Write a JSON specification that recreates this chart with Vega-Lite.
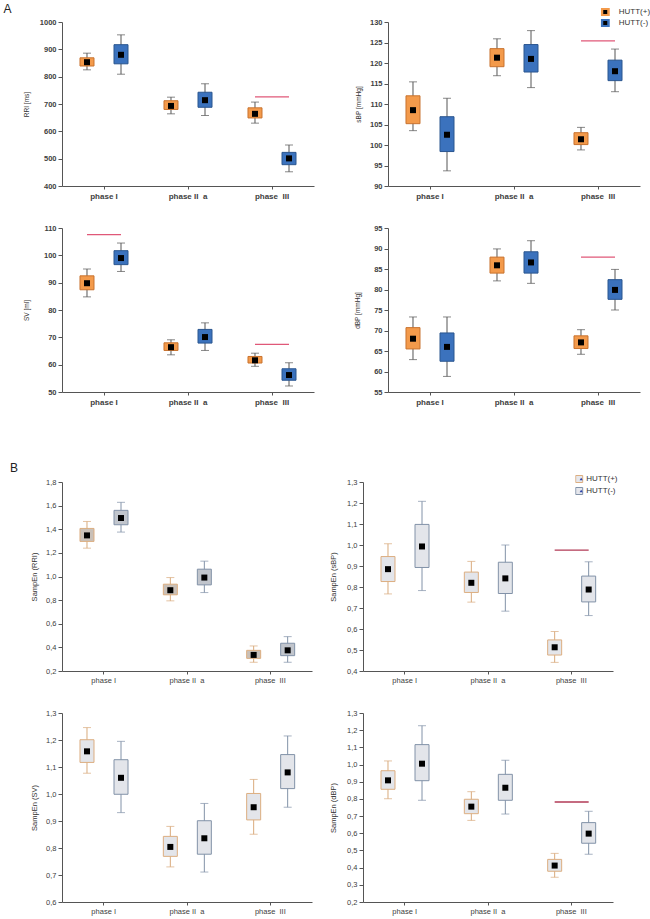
{
"$schema": "https://vega.github.io/schema/vega-lite/v6.json",
"padding": {"left": 3, "top": 3, "right": 5, "bottom": 5},
"datasets": {"d": [
{"p":"RRI","phase":"phase I","group":"HUTT(+)","lo":825,"q1":839,"mean":853,"q3":869,"hi":886},
{"p":"RRI","phase":"phase I","group":"HUTT(-)","lo":809,"q1":847,"mean":880,"q3":917,"hi":953},
{"p":"RRI","phase":"phase II a","group":"HUTT(+)","lo":664,"q1":680,"mean":693,"q3":712,"hi":725},
{"p":"RRI","phase":"phase II a","group":"HUTT(-)","lo":658,"q1":688,"mean":714,"q3":743,"hi":774},
{"p":"RRI","phase":"phase III","group":"HUTT(+)","lo":630,"q1":649,"mean":664,"q3":686,"hi":707,"sig":726},
{"p":"RRI","phase":"phase III","group":"HUTT(-)","lo":452,"q1":478,"mean":501,"q3":523,"hi":550,"sig":726},
{"p":"sBP","phase":"phase I","group":"HUTT(+)","lo":103.5,"q1":105.2,"mean":108.5,"q3":112.0,"hi":115.4},
{"p":"sBP","phase":"phase I","group":"HUTT(-)","lo":93.7,"q1":98.4,"mean":102.5,"q3":106.9,"hi":111.4},
{"p":"sBP","phase":"phase II a","group":"HUTT(+)","lo":116.9,"q1":119.1,"mean":121.3,"q3":123.5,"hi":125.9},
{"p":"sBP","phase":"phase II a","group":"HUTT(-)","lo":114.0,"q1":117.8,"mean":121.0,"q3":124.5,"hi":127.9},
{"p":"sBP","phase":"phase III","group":"HUTT(+)","lo":98.8,"q1":100.1,"mean":101.4,"q3":103.0,"hi":104.3,"sig":125.4},
{"p":"sBP","phase":"phase III","group":"HUTT(-)","lo":113.0,"q1":115.7,"mean":118.0,"q3":120.7,"hi":123.4,"sig":125.4},
{"p":"SV","phase":"phase I","group":"HUTT(+)","lo":84.8,"q1":87.4,"mean":89.8,"q3":92.5,"hi":95.0,"sig":107.6},
{"p":"SV","phase":"phase I","group":"HUTT(-)","lo":94.1,"q1":96.6,"mean":99.0,"q3":101.7,"hi":104.5,"sig":107.6},
{"p":"SV","phase":"phase II a","group":"HUTT(+)","lo":63.6,"q1":65.2,"mean":66.4,"q3":68.0,"hi":69.1},
{"p":"SV","phase":"phase II a","group":"HUTT(-)","lo":65.2,"q1":67.9,"mean":70.1,"q3":72.9,"hi":75.3},
{"p":"SV","phase":"phase III","group":"HUTT(+)","lo":59.4,"q1":60.6,"mean":61.6,"q3":63.0,"hi":64.2,"sig":67.4},
{"p":"SV","phase":"phase III","group":"HUTT(-)","lo":52.2,"q1":54.3,"mean":56.2,"q3":58.5,"hi":60.7,"sig":67.4},
{"p":"dBP","phase":"phase I","group":"HUTT(+)","lo":62.9,"q1":65.5,"mean":68.0,"q3":70.7,"hi":73.3},
{"p":"dBP","phase":"phase I","group":"HUTT(-)","lo":58.8,"q1":62.5,"mean":66.0,"q3":69.4,"hi":73.3},
{"p":"dBP","phase":"phase II a","group":"HUTT(+)","lo":82.1,"q1":84.0,"mean":85.9,"q3":87.9,"hi":89.9},
{"p":"dBP","phase":"phase II a","group":"HUTT(-)","lo":81.5,"q1":84.0,"mean":86.6,"q3":89.2,"hi":91.9},
{"p":"dBP","phase":"phase III","group":"HUTT(+)","lo":64.2,"q1":65.6,"mean":67.1,"q3":68.7,"hi":70.2,"sig":87.9},
{"p":"dBP","phase":"phase III","group":"HUTT(-)","lo":75.0,"q1":77.6,"mean":79.9,"q3":82.4,"hi":84.9,"sig":87.9},
{"p":"eRRI","phase":"phase I","group":"HUTT(+)","lo":1.240,"q1":1.297,"mean":1.348,"q3":1.407,"hi":1.466},
{"p":"eRRI","phase":"phase I","group":"HUTT(-)","lo":1.376,"q1":1.438,"mean":1.495,"q3":1.560,"hi":1.628},
{"p":"eRRI","phase":"phase II a","group":"HUTT(+)","lo":0.794,"q1":0.845,"mean":0.884,"q3":0.935,"hi":0.991},
{"p":"eRRI","phase":"phase II a","group":"HUTT(-)","lo":0.864,"q1":0.929,"mean":0.991,"q3":1.062,"hi":1.130},
{"p":"eRRI","phase":"phase III","group":"HUTT(+)","lo":0.274,"q1":0.307,"mean":0.336,"q3":0.375,"hi":0.412},
{"p":"eRRI","phase":"phase III","group":"HUTT(-)","lo":0.274,"q1":0.330,"mean":0.375,"q3":0.435,"hi":0.491},
{"p":"esBP","phase":"phase I","group":"HUTT(+)","lo":0.767,"q1":0.826,"mean":0.885,"q3":0.945,"hi":1.006},
{"p":"esBP","phase":"phase I","group":"HUTT(-)","lo":0.783,"q1":0.893,"mean":0.993,"q3":1.098,"hi":1.208},
{"p":"esBP","phase":"phase II a","group":"HUTT(+)","lo":0.728,"q1":0.774,"mean":0.820,"q3":0.871,"hi":0.922},
{"p":"esBP","phase":"phase II a","group":"HUTT(-)","lo":0.685,"q1":0.769,"mean":0.841,"q3":0.918,"hi":1.000},
{"p":"esBP","phase":"phase III","group":"HUTT(+)","lo":0.441,"q1":0.476,"mean":0.513,"q3":0.548,"hi":0.588,"sig":0.976},
{"p":"esBP","phase":"phase III","group":"HUTT(-)","lo":0.664,"q1":0.729,"mean":0.788,"q3":0.852,"hi":0.920,"sig":0.976},
{"p":"eSV","phase":"phase I","group":"HUTT(+)","lo":1.077,"q1":1.117,"mean":1.158,"q3":1.201,"hi":1.246},
{"p":"eSV","phase":"phase I","group":"HUTT(-)","lo":0.931,"q1":0.999,"mean":1.060,"q3":1.127,"hi":1.195},
{"p":"eSV","phase":"phase II a","group":"HUTT(+)","lo":0.730,"q1":0.769,"mean":0.804,"q3":0.843,"hi":0.880},
{"p":"eSV","phase":"phase II a","group":"HUTT(-)","lo":0.711,"q1":0.777,"mean":0.836,"q3":0.901,"hi":0.965},
{"p":"eSV","phase":"phase III","group":"HUTT(+)","lo":0.851,"q1":0.904,"mean":0.951,"q3":1.002,"hi":1.054},
{"p":"eSV","phase":"phase III","group":"HUTT(-)","lo":0.951,"q1":1.020,"mean":1.080,"q3":1.146,"hi":1.215},
{"p":"edBP","phase":"phase I","group":"HUTT(+)","lo":0.801,"q1":0.856,"mean":0.908,"q3":0.964,"hi":1.021},
{"p":"edBP","phase":"phase I","group":"HUTT(-)","lo":0.792,"q1":0.906,"mean":1.005,"q3":1.116,"hi":1.226},
{"p":"edBP","phase":"phase II a","group":"HUTT(+)","lo":0.675,"q1":0.714,"mean":0.755,"q3":0.798,"hi":0.842},
{"p":"edBP","phase":"phase II a","group":"HUTT(-)","lo":0.712,"q1":0.792,"mean":0.865,"q3":0.943,"hi":1.025},
{"p":"edBP","phase":"phase III","group":"HUTT(+)","lo":0.344,"q1":0.379,"mean":0.412,"q3":0.448,"hi":0.483,"sig":0.782},
{"p":"edBP","phase":"phase III","group":"HUTT(-)","lo":0.478,"q1":0.542,"mean":0.598,"q3":0.662,"hi":0.728,"sig":0.782}
]},
"data": {"name": "d"},
"spacing": 56,
"resolve": {"scale": {"stroke": "independent", "shape": "independent"}, "legend": {"stroke": "independent", "shape": "independent"}},
"vconcat": [
{
"title": {"text": "A", "anchor": "start", "fontSize": 12, "fontWeight": "normal", "dx": -20, "offset": -8},
"columns": 2,
"spacing": {"row": 24, "column": 40},
"resolve": {"scale": {"stroke": "independent", "shape": "independent"}, "legend": {"stroke": "independent", "shape": "independent"}},
"concat": [
{
"width": 252, "height": 164,
"transform": [{"filter": "datum.p==='RRI'"}],
"encoding": {
"x": {"field": "phase", "type": "nominal", "title": null, "scale": {"domain": ["phase I", "phase II a", "phase III"], "paddingInner": 0, "paddingOuter": 0}, "axis": {"labelAngle": 0, "tickSize": 3, "labelPadding": 3, "labelFontSize": 8, "labelFontWeight": "bold", "labelOverlap": false, "labelExpr": "datum.label==='phase II a'?'phase II\u00a0\u00a0a':datum.label==='phase III'?'phase\u00a0\u00a0III':datum.label"}},
"xOffset": {"field": "group", "type": "nominal", "scale": {"domain": ["HUTT(+)", "HUTT(-)"], "paddingInner": 0, "paddingOuter": 0.235}}
},
"layer": [
{"mark": {"type": "rule", "color": "#555555"}, "encoding": {"y": {"field": "lo", "type": "quantitative", "title": "RRI [ms]", "scale": {"domain": [400, 1000], "nice": false, "zero": false}, "axis": {"values": [400, 500, 600, 700, 800, 900, 1000], "tickCount": 30, "format": "d", "labelOverlap": false, "tickSize": 4, "labelPadding": 2, "labelFontSize": 7.5, "labelFontWeight": "bold", "titleFontSize": 6.5, "titleX": -32.5}}, "y2": {"field": "hi"}}},
{"mark": {"type": "tick", "color": "#555555", "size": 8, "thickness": 1}, "encoding": {"y": {"field": "lo", "type": "quantitative", "title": "RRI [ms]"}}},
{"mark": {"type": "tick", "color": "#555555", "size": 8, "thickness": 1}, "encoding": {"y": {"field": "hi", "type": "quantitative", "title": "RRI [ms]"}}},
{"mark": {"type": "bar", "size": 14, "strokeWidth": 1}, "encoding": {"y": {"field": "q1", "type": "quantitative", "title": "RRI [ms]"}, "y2": {"field": "q3"}, "fill": {"condition": {"test": "datum.group==='HUTT(+)'", "value": "#f39a4b"}, "value": "#3b72bd"}, "stroke": {"condition": {"test": "datum.group==='HUTT(+)'", "value": "#c8722e"}, "value": "#2b568f"}}},
{"mark": {"type": "square", "size": 36, "color": "#000000", "opacity": 1}, "encoding": {"y": {"field": "mean", "type": "quantitative", "title": "RRI [ms]"}}},
{"transform": [{"filter": "isValid(datum.sig)"}], "mark": {"type": "line", "color": "#e05878", "strokeWidth": 1.3}, "encoding": {"y": {"field": "sig", "type": "quantitative", "title": "RRI [ms]"}, "detail": {"field": "phase"}}}
]
},
{
"width": 252, "height": 164,
"transform": [{"filter": "datum.p==='sBP'"}],
"encoding": {
"x": {"field": "phase", "type": "nominal", "title": null, "scale": {"domain": ["phase I", "phase II a", "phase III"], "paddingInner": 0, "paddingOuter": 0}, "axis": {"labelAngle": 0, "tickSize": 3, "labelPadding": 3, "labelFontSize": 8, "labelFontWeight": "bold", "labelOverlap": false, "labelExpr": "datum.label==='phase II a'?'phase II\u00a0\u00a0a':datum.label==='phase III'?'phase\u00a0\u00a0III':datum.label"}},
"xOffset": {"field": "group", "type": "nominal", "scale": {"domain": ["HUTT(+)", "HUTT(-)"], "paddingInner": 0, "paddingOuter": 0.235}}
},
"layer": [
{"mark": {"type": "rule", "color": "#555555"}, "encoding": {"y": {"field": "lo", "type": "quantitative", "title": "sBP [mmHg]", "scale": {"domain": [90, 130], "nice": false, "zero": false}, "axis": {"values": [90, 95, 100, 105, 110, 115, 120, 125, 130], "tickCount": 30, "labelOverlap": false, "tickSize": 4, "labelPadding": 2, "labelFontSize": 7.5, "labelFontWeight": "bold", "titleFontSize": 6.5, "titleX": -27}}, "y2": {"field": "hi"}}},
{"mark": {"type": "tick", "color": "#555555", "size": 8, "thickness": 1}, "encoding": {"y": {"field": "lo", "type": "quantitative", "title": "sBP [mmHg]"}}},
{"mark": {"type": "tick", "color": "#555555", "size": 8, "thickness": 1}, "encoding": {"y": {"field": "hi", "type": "quantitative", "title": "sBP [mmHg]"}}},
{"mark": {"type": "bar", "size": 14, "strokeWidth": 1}, "encoding": {"y": {"field": "q1", "type": "quantitative", "title": "sBP [mmHg]"}, "y2": {"field": "q3"}, "fill": {"condition": {"test": "datum.group==='HUTT(+)'", "value": "#f39a4b"}, "value": "#3b72bd"}, "stroke": {"condition": {"test": "datum.group==='HUTT(+)'", "value": "#c8722e"}, "value": "#2b568f"}}},
{"mark": {"type": "square", "size": 36, "color": "#000000", "opacity": 1}, "encoding": {"y": {"field": "mean", "type": "quantitative", "title": "sBP [mmHg]"}}},
{"transform": [{"filter": "isValid(datum.sig)"}], "mark": {"type": "line", "color": "#e05878", "strokeWidth": 1.3}, "encoding": {"y": {"field": "sig", "type": "quantitative", "title": "sBP [mmHg]"}, "detail": {"field": "phase"}}},
{"mark": {"type": "point", "shape": "square", "filled": true, "fill": "#000000", "opacity": 0}, "encoding": {"y": {"field": "mean", "type": "quantitative", "title": "sBP [mmHg]"}, "stroke": {"field": "group", "type": "nominal", "scale": {"domain": ["HUTT(+)", "HUTT(-)"], "range": ["#f39a4b", "#3b72bd"]}, "legend": {"orient": "none", "legendX": 212.75, "legendY": -14, "title": null, "symbolType": "square", "symbolSize": 42, "symbolStrokeWidth": 2.5, "symbolFillColor": "#000000", "symbolOpacity": 1, "labelFontSize": 8, "labelOffset": 9, "rowPadding": 3, "clipHeight": 8, "padding": 0, "labelColor": "#333333"}}}}
]
},
{
"width": 252, "height": 164,
"transform": [{"filter": "datum.p==='SV'"}],
"encoding": {
"x": {"field": "phase", "type": "nominal", "title": null, "scale": {"domain": ["phase I", "phase II a", "phase III"], "paddingInner": 0, "paddingOuter": 0}, "axis": {"labelAngle": 0, "tickSize": 3, "labelPadding": 3, "labelFontSize": 8, "labelFontWeight": "bold", "labelOverlap": false, "labelExpr": "datum.label==='phase II a'?'phase II\u00a0\u00a0a':datum.label==='phase III'?'phase\u00a0\u00a0III':datum.label"}},
"xOffset": {"field": "group", "type": "nominal", "scale": {"domain": ["HUTT(+)", "HUTT(-)"], "paddingInner": 0, "paddingOuter": 0.235}}
},
"layer": [
{"mark": {"type": "rule", "color": "#555555"}, "encoding": {"y": {"field": "lo", "type": "quantitative", "title": "SV [ml]", "scale": {"domain": [50, 110], "nice": false, "zero": false}, "axis": {"values": [50, 60, 70, 80, 90, 100, 110], "tickCount": 30, "labelOverlap": false, "tickSize": 4, "labelPadding": 2, "labelFontSize": 7.5, "labelFontWeight": "bold", "titleFontSize": 6.5, "titleX": -32.5}}, "y2": {"field": "hi"}}},
{"mark": {"type": "tick", "color": "#555555", "size": 8, "thickness": 1}, "encoding": {"y": {"field": "lo", "type": "quantitative", "title": "SV [ml]"}}},
{"mark": {"type": "tick", "color": "#555555", "size": 8, "thickness": 1}, "encoding": {"y": {"field": "hi", "type": "quantitative", "title": "SV [ml]"}}},
{"mark": {"type": "bar", "size": 14, "strokeWidth": 1}, "encoding": {"y": {"field": "q1", "type": "quantitative", "title": "SV [ml]"}, "y2": {"field": "q3"}, "fill": {"condition": {"test": "datum.group==='HUTT(+)'", "value": "#f39a4b"}, "value": "#3b72bd"}, "stroke": {"condition": {"test": "datum.group==='HUTT(+)'", "value": "#c8722e"}, "value": "#2b568f"}}},
{"mark": {"type": "square", "size": 36, "color": "#000000", "opacity": 1}, "encoding": {"y": {"field": "mean", "type": "quantitative", "title": "SV [ml]"}}},
{"transform": [{"filter": "isValid(datum.sig)"}], "mark": {"type": "line", "color": "#e05878", "strokeWidth": 1.3}, "encoding": {"y": {"field": "sig", "type": "quantitative", "title": "SV [ml]"}, "detail": {"field": "phase"}}}
]
},
{
"width": 252, "height": 164,
"transform": [{"filter": "datum.p==='dBP'"}],
"encoding": {
"x": {"field": "phase", "type": "nominal", "title": null, "scale": {"domain": ["phase I", "phase II a", "phase III"], "paddingInner": 0, "paddingOuter": 0}, "axis": {"labelAngle": 0, "tickSize": 3, "labelPadding": 3, "labelFontSize": 8, "labelFontWeight": "bold", "labelOverlap": false, "labelExpr": "datum.label==='phase II a'?'phase II\u00a0\u00a0a':datum.label==='phase III'?'phase\u00a0\u00a0III':datum.label"}},
"xOffset": {"field": "group", "type": "nominal", "scale": {"domain": ["HUTT(+)", "HUTT(-)"], "paddingInner": 0, "paddingOuter": 0.235}}
},
"layer": [
{"mark": {"type": "rule", "color": "#555555"}, "encoding": {"y": {"field": "lo", "type": "quantitative", "title": "dBP [mmHg]", "scale": {"domain": [55, 95], "nice": false, "zero": false}, "axis": {"values": [55, 60, 65, 70, 75, 80, 85, 90, 95], "tickCount": 30, "labelOverlap": false, "tickSize": 4, "labelPadding": 2, "labelFontSize": 7.5, "labelFontWeight": "bold", "titleFontSize": 6.5, "titleX": -28}}, "y2": {"field": "hi"}}},
{"mark": {"type": "tick", "color": "#555555", "size": 8, "thickness": 1}, "encoding": {"y": {"field": "lo", "type": "quantitative", "title": "dBP [mmHg]"}}},
{"mark": {"type": "tick", "color": "#555555", "size": 8, "thickness": 1}, "encoding": {"y": {"field": "hi", "type": "quantitative", "title": "dBP [mmHg]"}}},
{"mark": {"type": "bar", "size": 14, "strokeWidth": 1}, "encoding": {"y": {"field": "q1", "type": "quantitative", "title": "dBP [mmHg]"}, "y2": {"field": "q3"}, "fill": {"condition": {"test": "datum.group==='HUTT(+)'", "value": "#f39a4b"}, "value": "#3b72bd"}, "stroke": {"condition": {"test": "datum.group==='HUTT(+)'", "value": "#c8722e"}, "value": "#2b568f"}}},
{"mark": {"type": "square", "size": 36, "color": "#000000", "opacity": 1}, "encoding": {"y": {"field": "mean", "type": "quantitative", "title": "dBP [mmHg]"}}},
{"transform": [{"filter": "isValid(datum.sig)"}], "mark": {"type": "line", "color": "#e05878", "strokeWidth": 1.3}, "encoding": {"y": {"field": "sig", "type": "quantitative", "title": "dBP [mmHg]"}, "detail": {"field": "phase"}}}
]
}
]
},
{
"title": {"text": "B", "anchor": "start", "fontSize": 12, "fontWeight": "normal", "dx": -20, "offset": 0},
"columns": 2,
"spacing": {"row": 25, "column": 17},
"resolve": {"scale": {"stroke": "independent", "shape": "independent"}, "legend": {"stroke": "independent", "shape": "independent"}},
"concat": [
{
"width": 250, "height": 189,
"transform": [{"filter": "datum.p==='eRRI'"}],
"encoding": {
"x": {"field": "phase", "type": "nominal", "title": null, "scale": {"domain": ["phase I", "phase II a", "phase III"], "paddingInner": 0, "paddingOuter": 0}, "axis": {"labelAngle": 0, "tickSize": 3, "labelPadding": 2, "labelFontSize": 7.5, "labelOverlap": false, "labelExpr": "datum.label==='phase II a'?'phase II\u00a0\u00a0a':datum.label==='phase III'?'phase\u00a0\u00a0III':datum.label"}},
"xOffset": {"field": "group", "type": "nominal", "scale": {"domain": ["HUTT(+)", "HUTT(-)"], "paddingInner": 0, "paddingOuter": 0.263}}
},
"layer": [
{"mark": {"type": "rule"}, "encoding": {"y": {"field": "lo", "type": "quantitative", "title": "SampEn (RRI)", "scale": {"domain": [0.2, 1.8], "nice": false, "zero": false}, "axis": {"values": [0.2, 0.4, 0.6, 0.8, 1.0, 1.2, 1.4, 1.6, 1.8], "tickCount": 30, "labelOverlap": false, "labelExpr": "replace(format(datum.value,'.1f'),'.',',')", "tickSize": 4, "labelPadding": 2, "labelFontSize": 7.5, "titleFontSize": 7.5, "titleX": -24}}, "y2": {"field": "hi"}, "color": {"condition": {"test": "datum.group==='HUTT(+)'", "value": "#d9aa7c"}, "value": "#8292a8"}}},
{"mark": {"type": "tick", "size": 8, "thickness": 1}, "encoding": {"y": {"field": "lo", "type": "quantitative", "title": "SampEn (RRI)"}, "color": {"condition": {"test": "datum.group==='HUTT(+)'", "value": "#d9aa7c"}, "value": "#8292a8"}}},
{"mark": {"type": "tick", "size": 8, "thickness": 1}, "encoding": {"y": {"field": "hi", "type": "quantitative", "title": "SampEn (RRI)"}, "color": {"condition": {"test": "datum.group==='HUTT(+)'", "value": "#d9aa7c"}, "value": "#8292a8"}}},
{"mark": {"type": "bar", "size": 14, "strokeWidth": 1}, "encoding": {"y": {"field": "q1", "type": "quantitative", "title": "SampEn (RRI)"}, "y2": {"field": "q3"}, "fill": {"condition": {"test": "datum.group==='HUTT(+)'", "value": "#c9c0b8"}, "value": "#c1c5cc"}, "stroke": {"condition": {"test": "datum.group==='HUTT(+)'", "value": "#dcae80"}, "value": "#8292a8"}}},
{"mark": {"type": "square", "size": 36, "color": "#000000", "opacity": 1}, "encoding": {"y": {"field": "mean", "type": "quantitative", "title": "SampEn (RRI)"}}}
]
},
{
"width": 250, "height": 189,
"transform": [{"filter": "datum.p==='esBP'"}],
"resolve": {"scale": {"shape": "independent"}, "legend": {"shape": "independent"}},
"encoding": {
"x": {"field": "phase", "type": "nominal", "title": null, "scale": {"domain": ["phase I", "phase II a", "phase III"], "paddingInner": 0, "paddingOuter": 0}, "axis": {"labelAngle": 0, "tickSize": 3, "labelPadding": 2, "labelFontSize": 7.5, "labelOverlap": false, "labelExpr": "datum.label==='phase II a'?'phase II\u00a0\u00a0a':datum.label==='phase III'?'phase\u00a0\u00a0III':datum.label"}},
"xOffset": {"field": "group", "type": "nominal", "scale": {"domain": ["HUTT(+)", "HUTT(-)"], "paddingInner": 0, "paddingOuter": 0.263}}
},
"layer": [
{"mark": {"type": "rule"}, "encoding": {"y": {"field": "lo", "type": "quantitative", "title": "SampEn (sBP)", "scale": {"domain": [0.4, 1.3], "nice": false, "zero": false}, "axis": {"values": [0.4, 0.5, 0.6, 0.7, 0.8, 0.9, 1.0, 1.1, 1.2, 1.3], "tickCount": 30, "labelOverlap": false, "labelExpr": "replace(format(datum.value,'.1f'),'.',',')", "tickSize": 4, "labelPadding": 2, "labelFontSize": 7.5, "titleFontSize": 7.5, "titleX": -26}}, "y2": {"field": "hi"}, "color": {"condition": {"test": "datum.group==='HUTT(+)'", "value": "#d9aa7c"}, "value": "#8292a8"}}},
{"mark": {"type": "tick", "size": 8, "thickness": 1}, "encoding": {"y": {"field": "lo", "type": "quantitative", "title": "SampEn (sBP)"}, "color": {"condition": {"test": "datum.group==='HUTT(+)'", "value": "#d9aa7c"}, "value": "#8292a8"}}},
{"mark": {"type": "tick", "size": 8, "thickness": 1}, "encoding": {"y": {"field": "hi", "type": "quantitative", "title": "SampEn (sBP)"}, "color": {"condition": {"test": "datum.group==='HUTT(+)'", "value": "#d9aa7c"}, "value": "#8292a8"}}},
{"mark": {"type": "bar", "size": 14, "strokeWidth": 1}, "encoding": {"y": {"field": "q1", "type": "quantitative", "title": "SampEn (sBP)"}, "y2": {"field": "q3"}, "fill": {"value": "#e3e5ea"}, "stroke": {"condition": {"test": "datum.group==='HUTT(+)'", "value": "#dcae80"}, "value": "#8292a8"}}},
{"mark": {"type": "square", "size": 36, "color": "#000000", "opacity": 1}, "encoding": {"y": {"field": "mean", "type": "quantitative", "title": "SampEn (sBP)"}}},
{"transform": [{"filter": "isValid(datum.sig)"}], "mark": {"type": "line", "color": "#b23a56", "strokeWidth": 1.3}, "encoding": {"y": {"field": "sig", "type": "quantitative", "title": "SampEn (sBP)"}, "detail": {"field": "phase"}}},
{"mark": {"type": "point", "shape": "square", "filled": true, "fill": "#e6e7ec", "opacity": 0}, "encoding": {"y": {"field": "mean", "type": "quantitative", "title": "SampEn (sBP)"}, "stroke": {"field": "group", "type": "nominal", "scale": {"domain": ["HUTT(+)", "HUTT(-)"], "range": ["#dcae80", "#8292a8"]}, "legend": {"orient": "none", "legendX": 212.2, "legendY": -7, "title": null, "symbolType": "square", "symbolSize": 49, "symbolStrokeWidth": 1, "symbolFillColor": "#e6e7ec", "symbolOpacity": 1, "labelFontSize": 8, "labelOffset": 3, "rowPadding": 4, "clipHeight": 8, "padding": 0, "labelColor": "#333333"}}}},
{"mark": {"type": "point", "filled": true, "fill": "#2a40a8", "opacity": 0}, "encoding": {"y": {"field": "mean", "type": "quantitative", "title": "SampEn (sBP)"}, "shape": {"field": "group", "type": "nominal", "scale": {"domain": ["HUTT(+)", "HUTT(-)"], "range": ["triangle-up", "triangle-up"]}, "legend": {"orient": "none", "legendX": 214.2, "legendY": -7, "title": null, "symbolSize": 10, "symbolStrokeWidth": 0, "symbolFillColor": "#2a40a8", "symbolOpacity": 1, "labelFontSize": 8, "labelOffset": 3, "rowPadding": 4, "clipHeight": 8, "padding": 0, "labelExpr": "''"}}}}
]
},
{
"width": 250, "height": 189,
"transform": [{"filter": "datum.p==='eSV'"}],
"encoding": {
"x": {"field": "phase", "type": "nominal", "title": null, "scale": {"domain": ["phase I", "phase II a", "phase III"], "paddingInner": 0, "paddingOuter": 0}, "axis": {"labelAngle": 0, "tickSize": 3, "labelPadding": 2, "labelFontSize": 7.5, "labelOverlap": false, "labelExpr": "datum.label==='phase II a'?'phase II\u00a0\u00a0a':datum.label==='phase III'?'phase\u00a0\u00a0III':datum.label"}},
"xOffset": {"field": "group", "type": "nominal", "scale": {"domain": ["HUTT(+)", "HUTT(-)"], "paddingInner": 0, "paddingOuter": 0.263}}
},
"layer": [
{"mark": {"type": "rule"}, "encoding": {"y": {"field": "lo", "type": "quantitative", "title": "SampEn (SV)", "scale": {"domain": [0.6, 1.3], "nice": false, "zero": false}, "axis": {"values": [0.6, 0.7, 0.8, 0.9, 1.0, 1.1, 1.2, 1.3], "tickCount": 30, "labelOverlap": false, "labelExpr": "replace(format(datum.value,'.1f'),'.',',')", "tickSize": 4, "labelPadding": 2, "labelFontSize": 7.5, "titleFontSize": 7.5, "titleX": -24}}, "y2": {"field": "hi"}, "color": {"condition": {"test": "datum.group==='HUTT(+)'", "value": "#d9aa7c"}, "value": "#8292a8"}}},
{"mark": {"type": "tick", "size": 8, "thickness": 1}, "encoding": {"y": {"field": "lo", "type": "quantitative", "title": "SampEn (SV)"}, "color": {"condition": {"test": "datum.group==='HUTT(+)'", "value": "#d9aa7c"}, "value": "#8292a8"}}},
{"mark": {"type": "tick", "size": 8, "thickness": 1}, "encoding": {"y": {"field": "hi", "type": "quantitative", "title": "SampEn (SV)"}, "color": {"condition": {"test": "datum.group==='HUTT(+)'", "value": "#d9aa7c"}, "value": "#8292a8"}}},
{"mark": {"type": "bar", "size": 14, "strokeWidth": 1}, "encoding": {"y": {"field": "q1", "type": "quantitative", "title": "SampEn (SV)"}, "y2": {"field": "q3"}, "fill": {"value": "#e3e5ea"}, "stroke": {"condition": {"test": "datum.group==='HUTT(+)'", "value": "#dcae80"}, "value": "#8292a8"}}},
{"mark": {"type": "square", "size": 36, "color": "#000000", "opacity": 1}, "encoding": {"y": {"field": "mean", "type": "quantitative", "title": "SampEn (SV)"}}}
]
},
{
"width": 250, "height": 189,
"transform": [{"filter": "datum.p==='edBP'"}],
"encoding": {
"x": {"field": "phase", "type": "nominal", "title": null, "scale": {"domain": ["phase I", "phase II a", "phase III"], "paddingInner": 0, "paddingOuter": 0}, "axis": {"labelAngle": 0, "tickSize": 3, "labelPadding": 2, "labelFontSize": 7.5, "labelOverlap": false, "labelExpr": "datum.label==='phase II a'?'phase II\u00a0\u00a0a':datum.label==='phase III'?'phase\u00a0\u00a0III':datum.label"}},
"xOffset": {"field": "group", "type": "nominal", "scale": {"domain": ["HUTT(+)", "HUTT(-)"], "paddingInner": 0, "paddingOuter": 0.263}}
},
"layer": [
{"mark": {"type": "rule"}, "encoding": {"y": {"field": "lo", "type": "quantitative", "title": "SampEn (dBP)", "scale": {"domain": [0.2, 1.3], "nice": false, "zero": false}, "axis": {"values": [0.2, 0.3, 0.4, 0.5, 0.6, 0.7, 0.8, 0.9, 1.0, 1.1, 1.2, 1.3], "tickCount": 30, "labelOverlap": false, "labelExpr": "replace(format(datum.value,'.1f'),'.',',')", "tickSize": 4, "labelPadding": 2, "labelFontSize": 7.5, "titleFontSize": 7.5, "titleX": -26}}, "y2": {"field": "hi"}, "color": {"condition": {"test": "datum.group==='HUTT(+)'", "value": "#d9aa7c"}, "value": "#8292a8"}}},
{"mark": {"type": "tick", "size": 8, "thickness": 1}, "encoding": {"y": {"field": "lo", "type": "quantitative", "title": "SampEn (dBP)"}, "color": {"condition": {"test": "datum.group==='HUTT(+)'", "value": "#d9aa7c"}, "value": "#8292a8"}}},
{"mark": {"type": "tick", "size": 8, "thickness": 1}, "encoding": {"y": {"field": "hi", "type": "quantitative", "title": "SampEn (dBP)"}, "color": {"condition": {"test": "datum.group==='HUTT(+)'", "value": "#d9aa7c"}, "value": "#8292a8"}}},
{"mark": {"type": "bar", "size": 14, "strokeWidth": 1}, "encoding": {"y": {"field": "q1", "type": "quantitative", "title": "SampEn (dBP)"}, "y2": {"field": "q3"}, "fill": {"value": "#e3e5ea"}, "stroke": {"condition": {"test": "datum.group==='HUTT(+)'", "value": "#dcae80"}, "value": "#8292a8"}}},
{"mark": {"type": "square", "size": 36, "color": "#000000", "opacity": 1}, "encoding": {"y": {"field": "mean", "type": "quantitative", "title": "SampEn (dBP)"}}},
{"transform": [{"filter": "isValid(datum.sig)"}], "mark": {"type": "line", "color": "#b23a56", "strokeWidth": 1.3}, "encoding": {"y": {"field": "sig", "type": "quantitative", "title": "SampEn (dBP)"}, "detail": {"field": "phase"}}}
]
}
]
}
],
"config": {
"font": "Liberation Sans",
"view": {"stroke": null},
"axis": {"grid": false, "labelOverlap": false, "labelBound": false, "domainColor": "#555555", "tickColor": "#555555", "labelColor": "#404040", "titleColor": "#333333", "titleFontWeight": "normal", "labelFont": "Liberation Sans", "titleFont": "Liberation Sans"},
"title": {"font": "Liberation Sans", "fontWeight": "normal", "fontSize": 12, "color": "#222222"},
"legend": {"labelFont": "Liberation Sans"}
}
}
